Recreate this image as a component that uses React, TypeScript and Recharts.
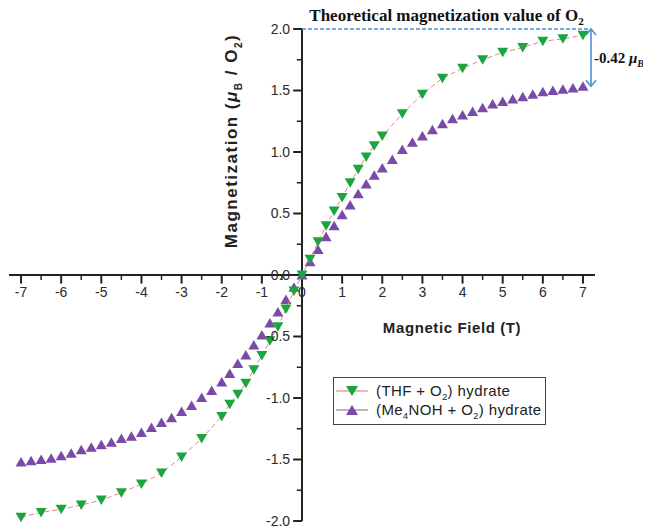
import { ScatterChart, Scatter, XAxis, YAxis, ReferenceLine } from 'recharts';

// field (T) and magnetization (μB / O2)
const thfField = [-7, -6.5, -6, -5.5, -5, -4.5, -4, -3.5, -3, -2.5, -2, -1.8, -1.6, -1.4, -1.2, -1, -0.8, -0.6, -0.4, -0.2,
  0, 0.2, 0.4, 0.6, 0.8, 1, 1.2, 1.4, 1.6, 1.8, 2, 2.5, 3, 3.5, 4, 4.5, 5, 5.5, 6, 6.5, 7];
const thfMag = [-1.97, -1.93, -1.905, -1.87, -1.83, -1.77, -1.7, -1.61, -1.48, -1.33, -1.15, -1.05, -0.97, -0.88, -0.77, -0.654, -0.535, -0.42, -0.276, -0.13,
  0, 0.129, 0.27, 0.4, 0.52, 0.63, 0.75, 0.86, 0.96, 1.05, 1.13, 1.31, 1.47, 1.6, 1.68, 1.75, 1.81, 1.85, 1.9, 1.92, 1.95];

const meField = [-7, -6.75, -6.5, -6.25, -6, -5.75, -5.5, -5.25, -5, -4.75, -4.5, -4.25, -4, -3.75, -3.5, -3.25, -3, -2.75, -2.5, -2.25,
  -2, -1.8, -1.6, -1.4, -1.2, -1, -0.8, -0.6, -0.4, -0.2, 0, 0.2, 0.4, 0.6, 0.8, 1, 1.2, 1.4, 1.6, 1.8, 2,
  2.25, 2.5, 2.75, 3, 3.25, 3.5, 3.75, 4, 4.25, 4.5, 4.75, 5, 5.25, 5.5, 5.75, 6, 6.25, 6.5, 6.75, 7];
const meMag = [-1.52, -1.51, -1.5, -1.49, -1.47, -1.45, -1.42, -1.4, -1.38, -1.36, -1.33, -1.31, -1.28, -1.24, -1.2, -1.16, -1.11, -1.06, -0.995, -0.94,
  -0.87, -0.8, -0.72, -0.65, -0.57, -0.487, -0.39, -0.3, -0.2, -0.1, 0, 0.108, 0.207, 0.31, 0.4, 0.49, 0.57, 0.66, 0.74, 0.81, 0.87,
  0.94, 1.02, 1.08, 1.13, 1.18, 1.23, 1.27, 1.3, 1.33, 1.36, 1.39, 1.41, 1.43, 1.45, 1.47, 1.49, 1.5, 1.51, 1.52, 1.535];

const xMajorTicks = [-7, -6, -5, -4, -3, -2, -1, 0, 1, 2, 3, 4, 5, 6, 7];
const xMinorTicks = [-6.5, -5.5, -4.5, -3.5, -2.5, -1.5, -0.5, 0.5, 1.5, 2.5, 3.5, 4.5, 5.5, 6.5];
const yMajorTicks = [-2, -1.5, -1, -0.5, 0, 0.5, 1, 1.5, 2];
const yMinorTicks = [-1.75, -1.25, -0.75, -0.25, 0.25, 0.75, 1.25, 1.75];

const theoreticalValue = 2.0;
const measuredTop = 1.535;
const gapText = '-0.42 ';

const thfData = thfField.map((x, i) => ({ x, y: thfMag[i] }));
const meData = meField.map((x, i) => ({ x, y: meMag[i] }));

const GREEN = '#1ca53e';
const PURPLE = '#7b4aa9';
const RED_LINE = '#e58585';
const BLUE = '#4f8fd2';
const AXIS = '#222';
const SANS = "'Liberation Sans', Arial, sans-serif";
const SERIF = "'Liberation Serif', 'Times New Roman', serif";

const TriDown = (p: any) => {
  const { cx, cy } = p;
  if (cx == null || cy == null) return <g />;
  return <path d={`M${cx - 5.5},${cy - 4.5}L${cx + 5.5},${cy - 4.5}L${cx},${cy + 5}Z`} fill={GREEN} />;
};

const TriUp = (p: any) => {
  const { cx, cy } = p;
  if (cx == null || cy == null) return <g />;
  return <path d={`M${cx - 5.5},${cy + 4.5}L${cx + 5.5},${cy + 4.5}L${cx},${cy - 5}Z`} fill={PURPLE} />;
};

const TopNote = (p: any) => {
  const vb = p.viewBox || { x: 0, y: 0, width: 0 };
  return (
    <text x={vb.x + vb.width / 2} y={vb.y - 8} textAnchor="middle" fontFamily={SERIF} fontWeight="bold" fontSize={17} fill="#111">
      Theoretical magnetization value of O<tspan fontSize={11} dy={4}>2</tspan>
    </text>
  );
};

const GapNote = (p: any) => {
  const vb = p.viewBox || { x: 0, y: 0, height: 0 };
  return (
    <text x={vb.x + 3} y={vb.y + vb.height / 2 + 5} fontFamily={SERIF} fontWeight="bold" fontSize={15} fill="#111">
      {gapText}<tspan fontStyle="italic">μ</tspan><tspan fontSize={10} dy={4} fontStyle="italic">B</tspan>
    </text>
  );
};

const DoubleArrow = (p: any) => {
  const { x1, y1, x2, y2 } = p;
  const top = Math.min(y1, y2);
  const bot = Math.max(y1, y2);
  return (
    <g stroke={BLUE} strokeWidth={1.6} fill="none">
      <line x1={x1} y1={top + 1} x2={x2} y2={bot - 1} />
      <path d={`M${x1 - 5},${top + 6}L${x1},${top}L${x1 + 5},${top + 6}`} />
      <path d={`M${x1 - 5},${bot - 6}L${x1},${bot}L${x1 + 5},${bot - 6}`} />
    </g>
  );
};

const tickFont = { fontSize: 14, fill: '#2a2a2a', fontFamily: SANS };

export default function App() {
  return (
    <div style={{ position: 'relative', width: 643, height: 529, marginTop: -8 }}>
      <ScatterChart width={643} height={529} margin={{ top: 29, right: 56, bottom: 8, left: 1 }}>
        <XAxis type="number" dataKey="x" domain={[-7.3, 7.3]} hide />
        <YAxis type="number" dataKey="y" domain={[-2, 2]} hide />

        <ReferenceLine y={0} stroke={AXIS} strokeWidth={2} />
        <ReferenceLine segment={[{ x: 0, y: -2 }, { x: 0, y: 2 }]} stroke={AXIS} strokeWidth={2} />
        {xMajorTicks.map(t => (
          <ReferenceLine key={`xm${t}`} segment={[{ x: t, y: 0 }, { x: t, y: -0.07 }]} stroke={AXIS} strokeWidth={2}
            label={{ value: String(t), position: 'bottom', offset: 3, ...tickFont }} />
        ))}
        {xMinorTicks.map(t => (
          <ReferenceLine key={`xn${t}`} segment={[{ x: t, y: 0 }, { x: t, y: -0.04 }]} stroke={AXIS} strokeWidth={1.5} />
        ))}
        {yMajorTicks.map(t => (
          <ReferenceLine key={`ym${t}`} segment={[{ x: -0.22, y: t }, { x: 0, y: t }]} stroke={AXIS} strokeWidth={2}
            label={{ value: t.toFixed(1), position: 'left', offset: 3, ...tickFont }} />
        ))}
        {yMinorTicks.map(t => (
          <ReferenceLine key={`yn${t}`} segment={[{ x: -0.13, y: t }, { x: 0, y: t }]} stroke={AXIS} strokeWidth={1.5} />
        ))}

        <ReferenceLine segment={[{ x: 0, y: theoreticalValue }, { x: 7.2, y: theoreticalValue }]} stroke={BLUE}
          strokeWidth={1.3} strokeDasharray="4 2" label={<TopNote />} />
        <ReferenceLine segment={[{ x: 7.2, y: measuredTop }, { x: 7.2, y: theoreticalValue }]}
          shape={DoubleArrow} label={<GapNote />} />

        <Scatter data={meData} shape={TriUp} isAnimationActive={false} />
        <Scatter data={thfData} shape={TriDown} isAnimationActive={false} lineType="joint"
          line={{ stroke: RED_LINE, strokeWidth: 1, strokeDasharray: '5 3' }} />
      </ScatterChart>

      <div style={{
        position: 'absolute', left: 225, top: 141, transform: 'translate(-50%, -50%) rotate(-90deg)',
        whiteSpace: 'nowrap', fontFamily: SANS, fontWeight: 'bold', fontSize: 17, letterSpacing: 1.5, color: '#222',
      }}>
        Magnetization (<i>μ</i><sub style={{ fontSize: 10 }}>B</sub> / O<sub style={{ fontSize: 10 }}>2</sub>)
      </div>

      <div style={{
        position: 'absolute', left: 444, top: 327, transform: 'translate(-50%, -50%)',
        whiteSpace: 'nowrap', fontFamily: SANS, fontWeight: 'bold', fontSize: 15, letterSpacing: 0.6, color: '#222',
      }}>
        Magnetic Field (T)
      </div>

      <div style={{
        position: 'absolute', left: 325, top: 377, width: 211, height: 43, border: '1.5px solid #444',
        background: '#fff', fontFamily: SANS, fontSize: 15, letterSpacing: 0.4, color: '#222', paddingTop: 3,
      }}>
        {[
          { label: <>(THF + O<sub style={{ fontSize: 9, lineHeight: 0 }}>2</sub>) hydrate</>, line: RED_LINE, shape: 'down', color: GREEN },
          { label: <>(Me<sub style={{ fontSize: 9, lineHeight: 0 }}>4</sub>NOH + O<sub style={{ fontSize: 9, lineHeight: 0 }}>2</sub>) hydrate</>, line: '#888', shape: 'up', color: PURPLE },
        ].map((row, i) => (
          <div key={i} style={{ display: 'flex', alignItems: 'center', height: 19 }}>
            <svg width={40} height={14} style={{ marginLeft: 2, flexShrink: 0 }}>
              <line x1={0} y1={7} x2={32} y2={7} stroke={row.line} strokeWidth={1.2} />
              {row.shape === 'down'
                ? <path d="M10,2L22,2L16,12Z" fill={row.color} />
                : <path d="M10,12L22,12L16,2Z" fill={row.color} />}
            </svg>
            <span style={{ lineHeight: '17px', whiteSpace: 'nowrap' }}>{row.label}</span>
          </div>
        ))}
      </div>
    </div>
  );
}
